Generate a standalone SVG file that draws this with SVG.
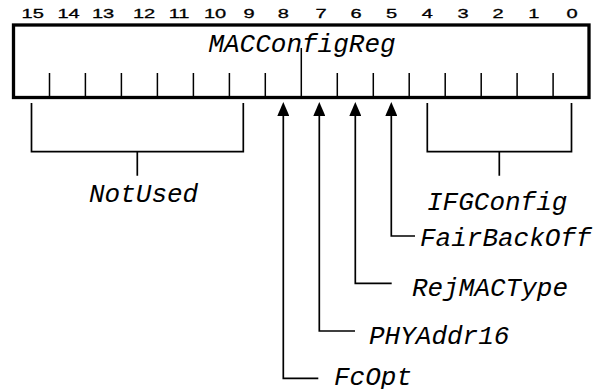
<svg xmlns="http://www.w3.org/2000/svg" width="597" height="389" viewBox="0 0 597 389">
<style>
.bit{font-family:"Liberation Sans",Arial,sans-serif;font-size:12.5px;fill:#000;text-anchor:middle;stroke:#000;stroke-width:0.3}
.lbl{font-family:"Liberation Mono","Courier New",monospace;font-style:italic;font-size:26px;fill:#000}
.box{fill:#fff;stroke:#000;stroke-width:3.3}
.tick{stroke:#000;stroke-width:1.5;fill:none}
.conn{stroke:#000;stroke-width:1.7;fill:none}
</style>
<defs>
<marker id="arr" markerUnits="userSpaceOnUse" viewBox="0 0 14 12" markerWidth="14" markerHeight="12" refX="6" refY="6" orient="auto">
<path d="M0,0 L14,6 L0,12 z" fill="#000"/>
</marker>
</defs>
<g id="bit-numbers">
<text class="bit" transform="translate(32.7,18.3) scale(1.6,1)">15</text>
<text class="bit" transform="translate(68.5,18.3) scale(1.6,1)">14</text>
<text class="bit" transform="translate(103,18.3) scale(1.6,1)">13</text>
<text class="bit" transform="translate(144,18.3) scale(1.6,1)">12</text>
<text class="bit" transform="translate(179,18.3) scale(1.6,1)">11</text>
<text class="bit" transform="translate(215,18.3) scale(1.6,1)">10</text>
<text class="bit" transform="translate(249,18.3) scale(1.6,1)">9</text>
<text class="bit" transform="translate(283.3,18.3) scale(1.6,1)">8</text>
<text class="bit" transform="translate(321,18.3) scale(1.6,1)">7</text>
<text class="bit" transform="translate(356,18.3) scale(1.6,1)">6</text>
<text class="bit" transform="translate(391.5,18.3) scale(1.6,1)">5</text>
<text class="bit" transform="translate(427.3,18.3) scale(1.6,1)">4</text>
<text class="bit" transform="translate(463,18.3) scale(1.6,1)">3</text>
<text class="bit" transform="translate(498,18.3) scale(1.6,1)">2</text>
<text class="bit" transform="translate(533.7,18.3) scale(1.6,1)">1</text>
<text class="bit" transform="translate(572,18.3) scale(1.6,1)">0</text>
</g>
<g id="register">
<rect class="box" x="13.5" y="25" width="575.5" height="72.5"/>
<path class="tick" d="M49.5,73V97.5M85.4,73V97.5M121.4,73V97.5M157.4,73V97.5M193.4,73V97.5M229.4,73V97.5M265.3,73V97.5M301.3,48V97.5M337.3,73V97.5M373.3,73V97.5M409.2,73V97.5M445.2,73V97.5M481.2,73V97.5M517.1,73V97.5M553.1,73V97.5"/>
<text class="lbl" x="302" y="52" text-anchor="middle">MACConfigReg</text>
</g>
<g id="connectors">
<path class="conn" d="M31.5,103V151.7H243.3V103M137.3,151.7V175.7"/>
<path class="conn" d="M427.3,103V151.7H571.5V103M499.3,151.7V175.7"/>
<path class="conn" d="M318.3,378.3H283.3V110" marker-end="url(#arr)"/>
<path class="conn" d="M355,331H319.3V110" marker-end="url(#arr)"/>
<path class="conn" d="M391.7,283.3H355.3V110" marker-end="url(#arr)"/>
<path class="conn" d="M415,236H391.3V110" marker-end="url(#arr)"/>
</g>
<g id="NotUsed"><text class="lbl" x="89" y="202">NotUsed</text></g>
<g id="IFGConfig"><text class="lbl" x="427" y="210">IFGConfig</text></g>
<g id="FairBackOff"><text class="lbl" x="420" y="246">FairBackOff</text></g>
<g id="RejMACType"><text class="lbl" x="412" y="296">RejMACType</text></g>
<g id="PHYAddr16"><text class="lbl" x="369" y="344">PHYAddr16</text></g>
<g id="FcOpt"><text class="lbl" x="334" y="385">FcOpt</text></g>
</svg>
